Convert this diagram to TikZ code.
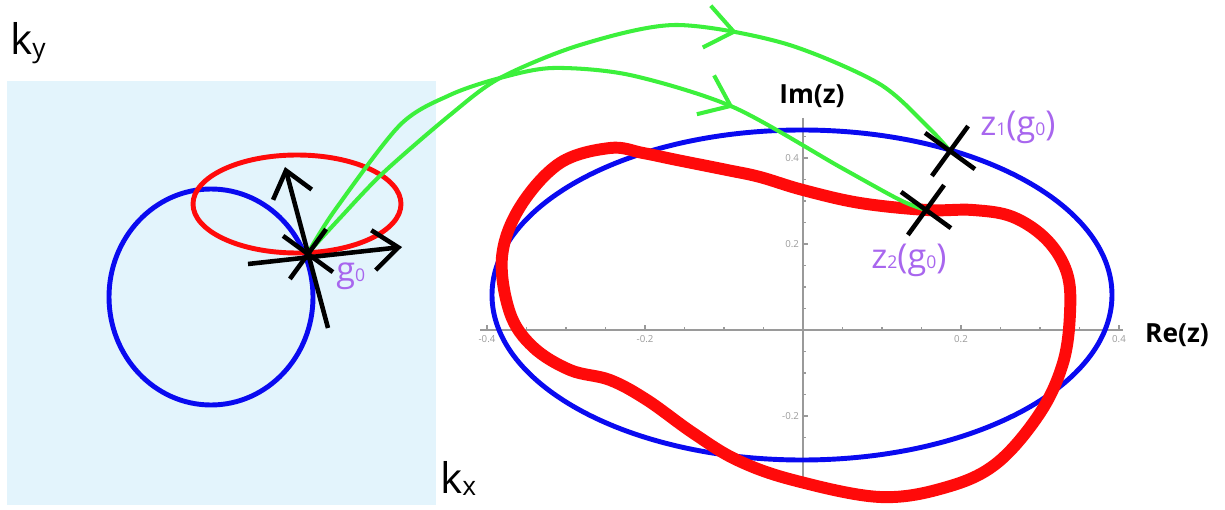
\documentclass[tikz,border=0pt]{standalone}
\usepackage{fontspec}
\setmainfont{Open Sans}
\usetikzlibrary{arrows.meta,decorations.markings,shapes.misc}
\definecolor{bzPanel}{HTML}{E3F4FC}
\definecolor{bzBlue}{HTML}{0A0AF0}
\definecolor{bzRed}{HTML}{FF0A0A}
\definecolor{bzGreen}{HTML}{3CF03C}
\definecolor{bzPurple}{HTML}{A866EE}
\definecolor{bzAxis}{HTML}{9A9A9A}
\newcommand\lowdig[1]{{\fontsize{10}{10}\selectfont #1}}
\newcommand\klow[1]{\raisebox{-1.5pt}{\fontsize{15}{15}\selectfont #1}}
\tikzset{
  bzloop/.style={draw=#1, line width=2.8pt},
  bzblob/.style={draw=#1, line width=6.8pt, line join=round},
  bzvec/.style={draw=black, line width=2.6pt, -{Straight Barb[length=5mm, width=8mm]}},
  bzflow/.style={
    color=bzGreen,
    line width=2.3pt,
    decoration={markings, mark=at position #1 with {\arrow{Straight Barb[length=5.5mm, width=8.5mm]}}},
    postaction={decorate}
  },
  bzcross/.style={cross out, draw=black, line width=2.6pt, minimum size=0.78cm, inner sep=0pt, rotate=9},
  bzlabel/.style={text=bzPurple, font=\fontsize{19.5}{21}\selectfont, inner sep=0pt},
  bzaxis/.style={draw=bzAxis, line width=0.6pt},
  bztick/.style={font=\fontsize{5.5}{6}\selectfont, text=bzAxis, inner sep=1pt},
  bzaxlabel/.style={font=\fontsize{15}{17}\selectfont\bfseries, inner sep=0pt},
  bzk/.style={font=\fontsize{24}{26}\selectfont, inner sep=0pt}
}

\begin{document}
\begin{tikzpicture}[x=0.02cm, y=-0.02cm]
  \useasboundingbox (0,0) rectangle (1225,510);

  % k-plane
  \fill[bzPanel] (7,81) rectangle (436,505);
  \draw[bzloop=bzBlue] (211,297) ellipse [x radius=102, y radius=108];
  \draw[bzloop=bzRed] (297,204) ellipse [x radius=104, y radius=49];

  \coordinate (g0) at (308,253);
  \coordinate (upTail) at (328,328);
  \coordinate (upTip) at (285,167);
  \coordinate (rtTail) at (248,264);
  \coordinate (rtTip) at (402,247);

  \node[bzk, anchor=base west] (kylab) at (10,55) {k\klow{y}};
  \node[bzk, anchor=base west] (kxlab) at (440,493) {k\klow{x}};

  % z-plane axes
  \draw[bzaxis] (480,330) -- (1123,330);
  \draw[bzaxis] (803,118) -- (803,477);
  \foreach \i in {-8,...,-1,1,2,...,8}
    \draw[bzaxis] ({803+39.5*\i},330) -- ++(0,-3);
  \foreach \i in {-8,-4,4,8}
    \draw[bzaxis] ({803+39.5*\i},330) -- ++(0,-5);
  \foreach \j in {-6,...,-1,1,2,...,9}
    \draw[bzaxis] (803,{330-21.5*\j}) -- ++(3,0);
  \foreach \j in {-4,4,8}
    \draw[bzaxis] (803,{330-21.5*\j}) -- ++(5,0);
  \foreach \i/\t in {-8/-0.4,-4/-0.2,4/0.2,8/0.4}
    \node[bztick, anchor=north] at ({803+39.5*\i},333) {\t};
  \foreach \j/\t in {-4/-0.2,4/0.2,8/0.4}
    \node[bztick, anchor=east] at (801,{330-21.5*\j}) {\t};
  \node[bzaxlabel, anchor=base] (imlab) at (812,104) {Im(z)};
  \node[bzaxlabel, anchor=base] (relab) at (1177,342) {Re(z)};

  \draw[bzloop=bzBlue] (802,295) ellipse [x radius=310, y radius=165];
  \draw[bzblob=bzRed] plot[smooth cycle, tension=0.6] coordinates {
    (502,257) (520,207) (560,163) (610,148) (643,153) (677,160) (727,170)
    (760,177) (803,190) (860,203) (927,210) (973,210) (1013,217) (1047,240)
    (1067,273) (1070,313) (1063,363) (1040,413) (997,463) (947,487) (880,497)
    (793,480) (737,460) (693,433) (647,400) (610,380) (570,370) (533,347) (510,313)};

  \coordinate (z1) at (950,151);
  \coordinate (z2) at (926,210);

  % g0 -> z1, z2
  \draw[bzflow=0.67] plot[smooth] coordinates {(g0) (340,218) (383,173) (450,115) (500,78)
    (580,45) (675,25) (783,43) (878,83) (928,127) (z1)};
  \draw[bzflow=0.70] plot[smooth] coordinates {(g0) (335,210) (400,125) (450,95) (500,78)
    (553,68) (630,75) (733,107) (840,167) (900,200) (z2)};

  \draw[bzvec] (upTail) -- (upTip);
  \draw[bzvec] (rtTail) -- (rtTip);

  \node[bzcross] (g0x) at (308,254) {};
  \node[bzcross] (z1x) at (z1) {};
  \node[bzcross] (z2x) at (z2) {};

  \node[bzlabel, anchor=base west] (g0lab) at (336,281) {g\lowdig{0}};
  \node[bzlabel, anchor=base west] (z1lab) at (980,136) {z\lowdig{1}(g\lowdig{0})};
  \node[bzlabel, anchor=base west] (z2lab) at (871,269) {z\lowdig{2}(g\lowdig{0})};
\end{tikzpicture}
\end{document}
